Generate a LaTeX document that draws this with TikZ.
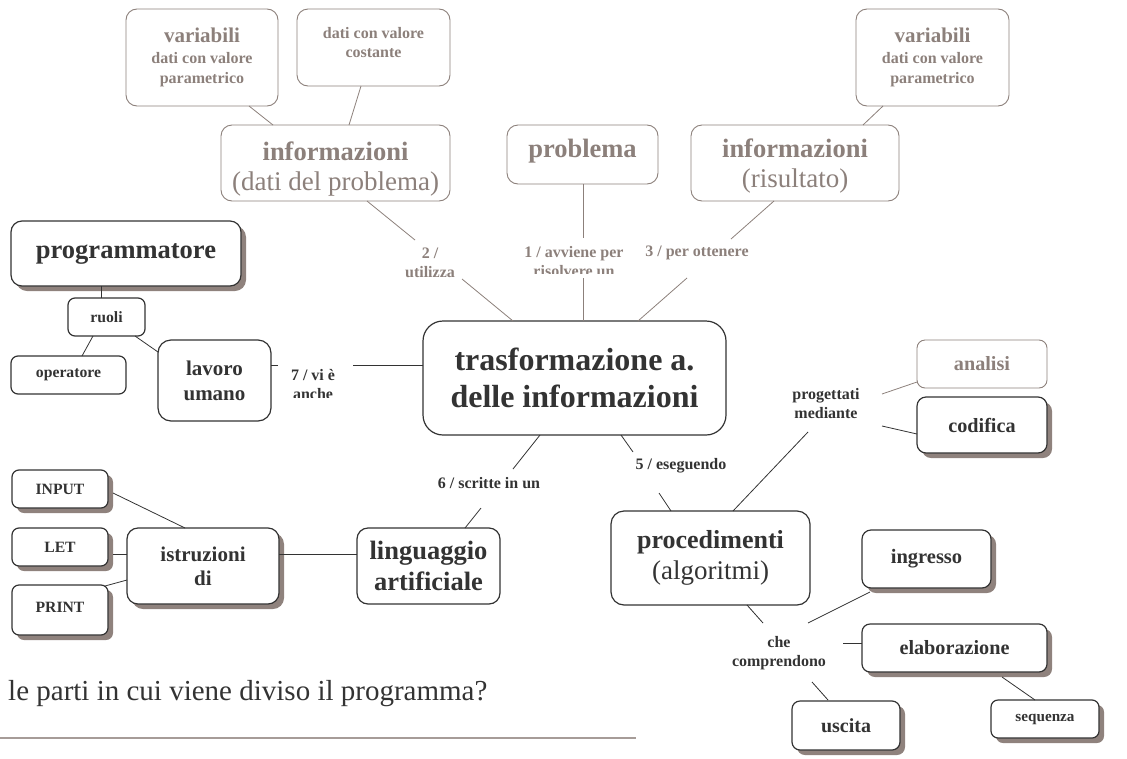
\documentclass[tikz,border=0pt]{standalone}
\usepackage{fontspec}
\setmainfont{Liberation Serif}
\usetikzlibrary{shadows}
\definecolor{dk}{HTML}{333333}
\definecolor{gy}{HTML}{8C807B}
\definecolor{sh}{HTML}{8F827D}
\definecolor{rulegy}{HTML}{A69C98}
\newcommand\fs[2]{\fontsize{#1}{#2}\selectfont}
\tikzset{
  box/.style={draw=dk, line width=1.2pt, rounded corners=11pt, fill=white,
    align=center, text=dk, inner sep=0pt},
  gbox/.style={box, draw=gy, text=gy, line width=0.9pt},
  sbox/.style={box, drop shadow={shadow xshift=5pt, shadow yshift=-5pt,
    fill=sh, opacity=1}},
  lbl/.style={font=\bfseries\fs{16}{19}, align=center, inner sep=0pt, text=dk},
  glbl/.style={lbl, text=gy},
  ln/.style={draw=dk, line width=0.8pt},
  gln/.style={draw=gy, line width=0.8pt},
  sz/.style 2 args={minimum width=#1pt, minimum height=#2pt},
  fnt/.style 2 args={font=\bfseries\fs{#1}{#2}}
}
\begin{document}
\begin{tikzpicture}[x=1pt,y=-1pt]
\useasboundingbox (0,0) rectangle (1127,758);

% upper branch: data and results
\node[gbox, sz={152}{97}, fnt={16}{20}] (varL) at (202,57.5)
  {\fs{21}{23}variabili\\[1pt]\fs{16}{20}dati con valore\\parametrico};
\node[gbox, sz={153}{77}, fnt={16}{19}, text height=31pt, text depth=12pt] (cost) at (373.5,47.5)
  {dati con valore\\costante};
\node[gbox, sz={229}{76}, fnt={26.5}{30}, text height=62pt, text depth=6.5pt] (infoD) at (335.5,163)
  {informazioni\\\mdseries\fs{27}{30}(dati del problema)};
\node[gbox, sz={151}{59}, fnt={26.5}{30}, text height=18pt, text depth=13pt] (prob) at (582.5,154.5)
  {problema};
\node[gbox, sz={208}{76}, fnt={26.5}{30}, text height=56pt, text depth=6.5pt] (infoR) at (795,163)
  {informazioni\\\mdseries\fs{27}{30}(risultato)};
\node[gbox, sz={153}{97}, fnt={16}{20}] (varR) at (932.5,57.5)
  {\fs{21}{23}variabili\\[1pt]\fs{16}{20}dati con valore\\parametrico};

% central concept
\node[box, sz={303}{114}, rounded corners=20pt, fnt={32}{37}] (ctr) at (574.5,378)
  {trasformazione a.\\delle informazioni};

% left branch: human work
\node[sbox, sz={230}{65}, fnt={26.5}{30}] (prog) at (126,253.5) {programmatore};
\node[box, sz={77}{38}, rounded corners=7pt, fnt={15.7}{19}] (ruoli) at (106.5,317) {ruoli};
\node[box, sz={115}{38}, rounded corners=7pt, fnt={15.7}{19}] (oper) at (68.5,375) {operatore};
\node[box, sz={113}{81}, rounded corners=13pt, fnt={21}{25}] (lavoro) at (214.5,380.5)
  {lavoro\\umano};

% lower left branch: language and instructions
\node[sbox, sz={96}{38}, rounded corners=7pt, fnt={15.7}{19}] (inp) at (60,489) {INPUT};
\node[sbox, sz={96}{38}, rounded corners=7pt, fnt={15.7}{19}] (let) at (60,547) {LET};
\node[sbox, sz={96}{50}, rounded corners=7pt, fnt={15.7}{19}, text depth=6pt] (prt) at (60,610) {PRINT};
\node[sbox, sz={152}{76}, fnt={21}{24}] (istr) at (203,566) {istruzioni\\di};
\node[box, sz={143}{76}, fnt={26.5}{31}] (ling) at (428.5,566) {linguaggio\\artificiale};

% lower right branch: algorithms
\node[box, sz={199}{94}, rounded corners=13pt, fnt={26}{31}] (proc) at (710.5,558)
  {procedimenti\\\mdseries\fs{27}{31}(algoritmi)};
\node[gbox, sz={130}{48}, rounded corners=8pt, fnt={20.2}{24}] (anal) at (982,364) {analisi};
\node[sbox, sz={130}{56}, rounded corners=9pt, fnt={20.2}{24}] (cod) at (982,425) {codifica};
\node[sbox, sz={129}{58}, rounded corners=9pt, fnt={20.5}{24}] (ingr) at (926.5,559) {ingresso};
\node[sbox, sz={185}{48}, rounded corners=8pt, fnt={20.2}{24}] (elab) at (954.5,648) {elaborazione};
\node[sbox, sz={108}{49}, rounded corners=8pt, fnt={20}{24}] (usc) at (846,725.5) {uscita};
\node[sbox, sz={108}{38}, rounded corners=7pt, fnt={15.2}{19}] (seq) at (1045,719) {sequenza};

% linking phrases
\node[glbl] (l2) at (430,263) {2 /\\utilizza};
\begin{scope}
  \clip (520,230) rectangle (640,273.5);
  \node[glbl] (l1) at (574,262) {1 / avviene per\\risolvere un};
\end{scope}
\node[glbl] (l3) at (697,253) {3 / per ottenere};
\begin{scope}
  \clip (270,360) rectangle (360,397);
  \node[lbl] (l7) at (313,385) {7 / vi è\\anche};
\end{scope}
\node[lbl] (l6) at (489,483) {6 / scritte in un};
\node[lbl] (l5) at (681,466) {5 / eseguendo};
\node[lbl] (lpm) at (826,404) {progettati\\mediante};
\node[lbl] (lche) at (779,653) {che\\comprendono};

% connectors of the upper branch
\draw[gln] ([shift={(47,48.5)}]varL.center) -- ([shift={(-62.5,-38)}]infoD.center);
\draw[gln] ([shift={(-12.5,38.5)}]cost.center) -- ([shift={(13.5,-38)}]infoD.center);
\draw[gln] ([shift={(31.5,38)}]infoD.center) -- ([shift={(-15,-23)}]l2.center);
\draw[gln] ([shift={(32,16)}]l2.center) -- ([shift={(-61.5,-57)}]ctr.center);
\draw[gln] ([shift={(0.5,29.5)}]prob.center) -- ([shift={(9,-24)}]l1.center);
\draw[gln] ([shift={(9,16)}]l1.center) -- ([shift={(8.5,-57)}]ctr.center);
\draw[gln] ([shift={(-21,38)}]infoR.center) -- ([shift={(34,-14)}]l3.center);
\draw[gln] ([shift={(-10,25)}]l3.center) -- ([shift={(63.5,-57)}]ctr.center);
\draw[gln] ([shift={(-49.5,48.5)}]varR.center) -- ([shift={(68,-38)}]infoR.center);

% connectors of the left branches
\draw[ln] ([shift={(-151.5,-13)}]ctr.center) -- ([shift={(40,-20)}]l7.center);
\draw[ln] ([shift={(-35,-20)}]l7.center) -- ([shift={(56.5,-15.5)}]lavoro.center);
\draw[ln] ([shift={(-25,32.5)}]prog.center) -- ([shift={(-5.5,-19)}]ruoli.center);
\draw[ln] ([shift={(-13.5,19)}]ruoli.center) -- ([shift={(13.5,-19)}]oper.center);
\draw[ln] ([shift={(28.5,19)}]ruoli.center) -- ([shift={(-56.5,-28.5)}]lavoro.center);
\draw[ln] ([shift={(-34.5,57)}]ctr.center) -- ([shift={(24,-14)}]l6.center);
\draw[ln] ([shift={(-8,25)}]l6.center) -- ([shift={(36.5,-38)}]ling.center);
\draw[ln] ([shift={(76,-12)}]istr.center) -- ([shift={(-71.5,-12)}]ling.center);
\draw[ln] ([shift={(53,4)}]inp.center) -- ([shift={(-18,-38)}]istr.center);
\draw[ln] ([shift={(53,7)}]let.center) -- ([shift={(-76,-12)}]istr.center);
\draw[ln] ([shift={(45,-24)}]prt.center) -- ([shift={(-76,14)}]istr.center);

% connectors of the right branch
\draw[ln] ([shift={(46.5,57)}]ctr.center) -- ([shift={(-48,-14)}]l5.center);
\draw[ln] ([shift={(-22,27)}]l5.center) -- ([shift={(-39.5,-47)}]proc.center);
\draw[ln] ([shift={(22.5,-47)}]proc.center) -- ([shift={(-18,28)}]lpm.center);
\draw[gln] ([shift={(56,-10)}]lpm.center) -- ([shift={(-65,18)}]anal.center);
\draw[ln] ([shift={(56,22)}]lpm.center) -- ([shift={(-65,9)}]cod.center);
\draw[ln] ([shift={(36.5,47)}]proc.center) -- ([shift={(-16,-30)}]lche.center);
\draw[ln] ([shift={(29,-30)}]lche.center) -- ([shift={(-56.5,33)}]ingr.center);
\draw[ln] ([shift={(64,-10)}]lche.center) -- ([shift={(-92.5,-5)}]elab.center);
\draw[ln] ([shift={(33,29)}]lche.center) -- ([shift={(-18,-25.5)}]usc.center);
\draw[ln] ([shift={(47.5,29)}]elab.center) -- ([shift={(-10,-19)}]seq.center);

% question and answer line at the foot of the page
\node[anchor=base west, inner sep=0pt, text=dk, font=\fs{29}{34}] (q) at (8,700)
  {le parti in cui viene diviso il programma?};
\draw[rulegy, line width=2pt] (0,738) -- (636,738);
\end{tikzpicture}
\end{document}
